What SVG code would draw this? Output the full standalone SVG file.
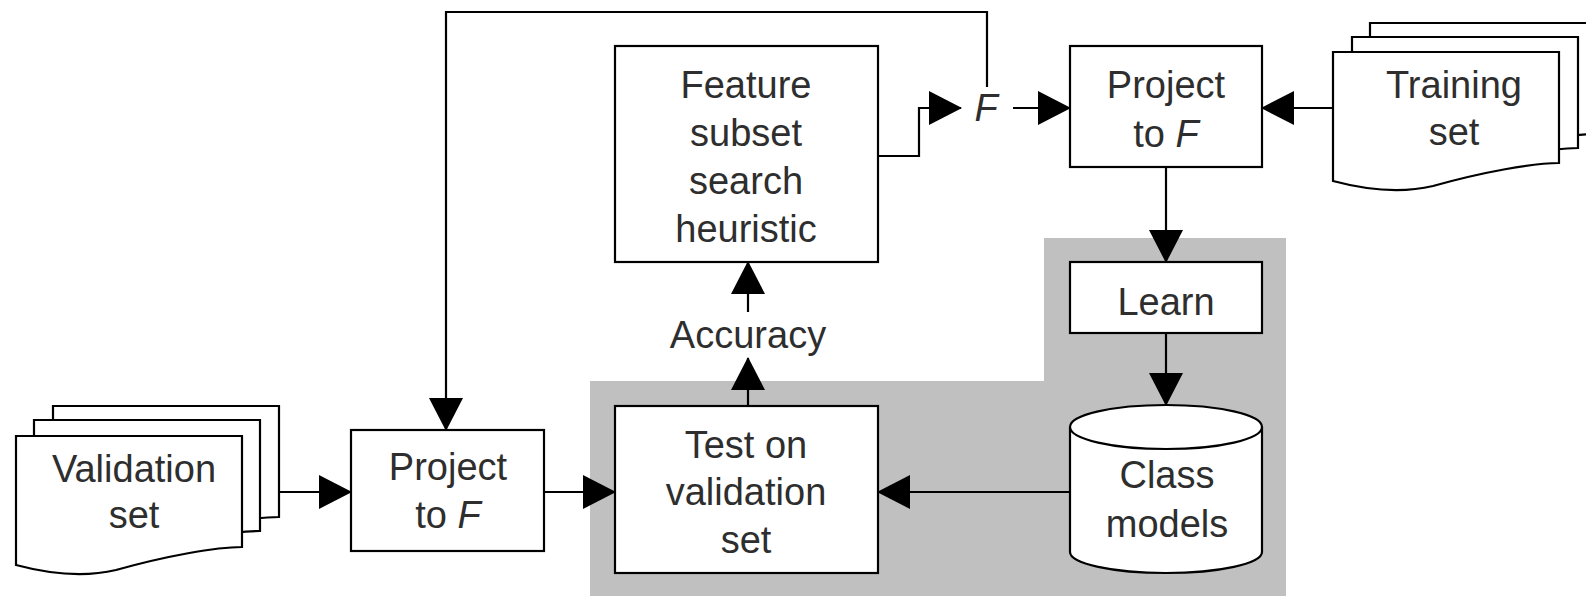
<svg xmlns="http://www.w3.org/2000/svg" width="1586" height="596" viewBox="0 0 1586 596">
  <style>
    .box { fill: #ffffff; stroke: #000000; stroke-width: 2.2; }
    .line { fill: none; stroke: #000000; stroke-width: 2.2; }
    .arrow { fill: none; stroke: #000000; stroke-width: 2.2; marker-end: url(#ah); }
    text { font-family: "Liberation Sans", Arial, sans-serif; font-size: 38px; fill: #2e2e2e; text-anchor: middle; }
    .it { font-style: italic; }
  </style>
  <defs>
    <marker id="ah" markerUnits="userSpaceOnUse" markerWidth="34" markerHeight="34" viewBox="0 0 33 34" refX="32" refY="17" orient="auto">
      <path d="M0,0 L33,17 L0,34 Z" fill="#000000"/>
    </marker>
    <path id="doc" d="M0,0 H226 V111 C200,111 150,120 100,134 C75,140 45,141 0,129 Z"/>
  </defs>

  <!-- grey background region -->
  <path id="grey-region" d="M590,596 V381 H1044 V238 H1286 V596 Z" fill="#c0c0c0"/>

  <g id="connectors">
    <path class="arrow" d="M987,87 V12 H446 V430"/>
    <path class="arrow" d="M878,156 H919 V108 H961"/>
    <path class="arrow" d="M1013,108 H1070"/>
    <path class="arrow" d="M1333,108 H1262"/>
    <path class="arrow" d="M1166,167 V262"/>
    <path class="arrow" d="M1166,333 V405"/>
    <path class="arrow" d="M1070,492 H878"/>
    <path class="arrow" d="M748,312 V262"/>
    <path class="arrow" d="M748,405 V358"/>
    <path class="arrow" d="M279,492 H351"/>
    <path class="arrow" d="M544,492 H615"/>
  </g>

  <g id="validation-set">
    <use href="#doc" class="box" transform="translate(53,406)"/>
    <use href="#doc" class="box" transform="translate(34,420)"/>
    <use href="#doc" class="box" transform="translate(16,436)"/>
    <text x="134" y="482">Validation</text>
    <text x="134" y="528">set</text>
  </g>

  <g id="training-set">
    <use href="#doc" class="box" transform="translate(1370,23)"/>
    <use href="#doc" class="box" transform="translate(1352,37)"/>
    <use href="#doc" class="box" transform="translate(1333,52)"/>
    <text x="1454" y="98">Training</text>
    <text x="1454" y="145">set</text>
  </g>

  <g id="project-top">
    <rect class="box" x="1070" y="46" width="192" height="121"/>
    <text x="1166" y="98">Project</text>
    <text x="1166" y="147">to <tspan class="it">F</tspan></text>
  </g>

  <g id="feature-search">
    <rect class="box" x="615" y="46" width="263" height="216"/>
    <text x="746" y="98">Feature</text>
    <text x="746" y="146">subset</text>
    <text x="746" y="194">search</text>
    <text x="746" y="242">heuristic</text>
  </g>

  <g id="f-label">
    <text class="it" x="986" y="121">F</text>
  </g>

  <g id="learn">
    <rect class="box" x="1070" y="262" width="192" height="71"/>
    <text x="1166" y="315">Learn</text>
  </g>

  <g id="accuracy-label">
    <text x="748" y="348">Accuracy</text>
  </g>

  <g id="class-models">
    <path class="box" d="M1070,427 V552 A96,21 0 0 0 1262,552 V427"/>
    <ellipse class="box" cx="1166" cy="427" rx="96" ry="22"/>
    <text x="1167" y="488">Class</text>
    <text x="1167" y="537">models</text>
  </g>

  <g id="test-validation">
    <rect class="box" x="615" y="406" width="263" height="167"/>
    <text x="746" y="458">Test on</text>
    <text x="746" y="505">validation</text>
    <text x="746" y="553">set</text>
  </g>

  <g id="project-bottom">
    <rect class="box" x="351" y="430" width="193" height="121"/>
    <text x="448" y="480">Project</text>
    <text x="448" y="528">to <tspan class="it">F</tspan></text>
  </g>
</svg>
